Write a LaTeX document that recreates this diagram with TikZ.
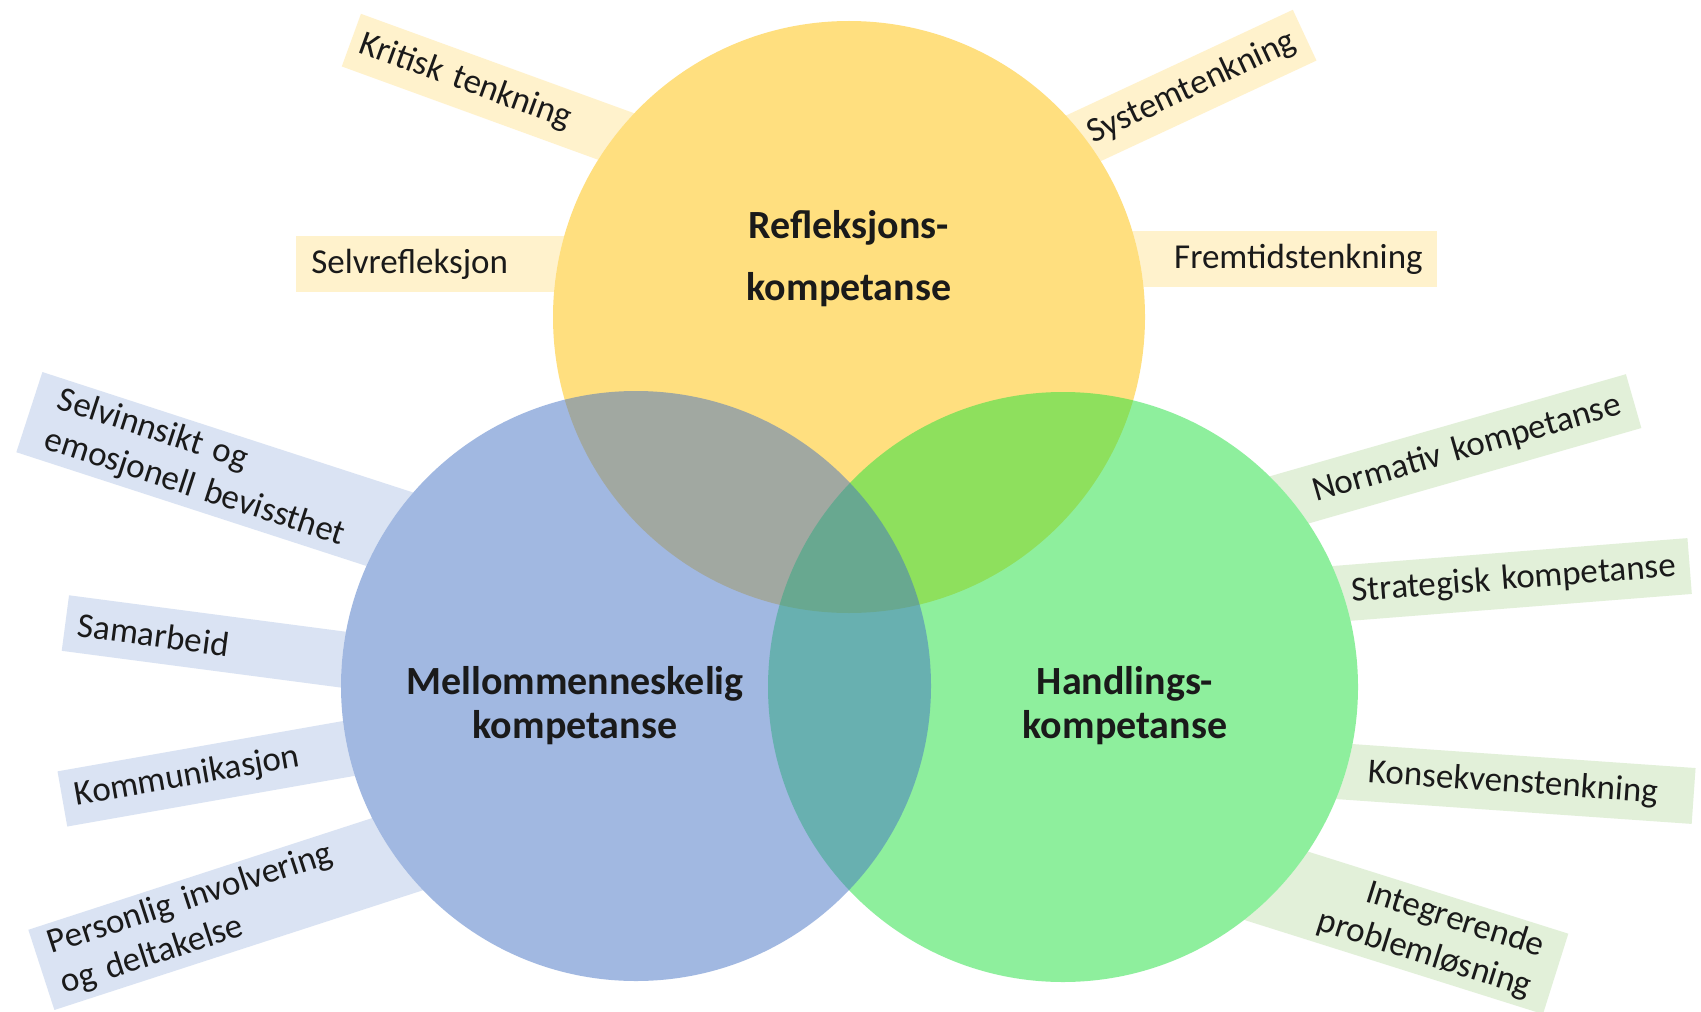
\documentclass[tikz,border=0pt]{standalone}
\usepackage{fontspec}
\setmainfont{Carlito}
\definecolor{cy}{HTML}{FFC000}
\definecolor{cb}{HTML}{4472C4}
\definecolor{cg}{HTML}{1EE13C}
\definecolor{ty}{HTML}{FFF2CC}
\definecolor{tb}{HTML}{DAE3F3}
\definecolor{tg}{HTML}{E2F0D9}
\definecolor{ink}{HTML}{1A1A1A}
\begin{document}
\begin{tikzpicture}[x=0.5pt,y=-0.5pt,
  basetag/.style={inner ysep=3pt, minimum height=28pt, text=ink,
    font=\fontsize{17.5}{21}\selectfont},
  ytag/.style={basetag, fill=ty},
  btag/.style={basetag, fill=tb},
  gtag/.style={basetag, fill=tg},
  ltag/.style={anchor=west, align=left},
  rtag/.style={anchor=east, align=right},
  bigtxt/.style={font=\bfseries\fontsize{20}{22}\selectfont, align=center, text=ink},
  disc/.style={fill opacity=0.5}]
\useasboundingbox (0,0) rectangle (1701,1011);
\fill[white] (0,0) rectangle (1701,1011);
% yellow tags
\node[ytag, ltag, rotate=-20, text width=160pt, inner xsep=5pt] (kt) at (351,40) {Kritisk tenkning};
\node[ytag, ltag, rotate=0, text width=157pt, inner xsep=7.5pt] (sr) at (296,264) {Selvrefleksjon};
\node[ytag, rtag, rotate=25, text width=148pt, inner xsep=6pt] (st) at (1305,35) {Systemtenkning};
\node[ytag, rtag, rotate=0, text width=171pt, inner xsep=7pt] (ft) at (1437,259) {Fremtidstenkning};
% blue tags
\node[btag, ltag, rotate=-18, text width=194pt, inner xsep=12pt] (se) at (29,412) {Selvinnsikt og\\emosjonell bevissthet};
\node[btag, ltag, rotate=-7.5, text width=162pt, inner xsep=6.5pt] (sa) at (65,623) {Samarbeid};
\node[btag, ltag, rotate=10, text width=167pt, inner xsep=6.5pt] (ko) at (62,799) {Kommunikasjon};
\node[btag, ltag, rotate=18, text width=200pt, inner xsep=7.5pt] (pe) at (41,970) {Personlig involvering\\og deltakelse};
% green tags
\node[gtag, rtag, rotate=16, text width=201pt, inner xsep=7pt] (no) at (1634,401) {Normativ kompetanse};
\node[gtag, rtag, rotate=4.5, text width=196pt, inner xsep=7pt] (sk) at (1690,566) {Strategisk kompetanse};
\node[gtag, rtag, rotate=-4, text width=174pt, inner xsep=18pt] (kn) at (1694,796) {Konsekvenstenkning};
\node[gtag, rtag, rotate=-17.5, text width=155pt, inner xsep=10pt] (ip) at (1556,974) {Integrerende\\problemløsning};
% circles
\coordinate (Y) at (849,317);
\coordinate (B) at (636,686);
\coordinate (G) at (1063,687);
\fill[white] (Y) circle[radius=148pt];
\fill[white] (B) circle[radius=147.5pt];
\fill[white] (G) circle[radius=147.5pt];
\fill[cy, disc] (Y) circle[radius=148pt];
\fill[cg, disc] (G) circle[radius=147.5pt];
\fill[cb, disc] (B) circle[radius=147.5pt];
% labels
\node[bigtxt, font=\bfseries\fontsize{20}{31}\selectfont] (rk) at (849,259) {Refleksjons-\\kompetanse};
\node[bigtxt] (mk) at (575,706) {Mellommenneskelig\\kompetanse};
\node[bigtxt] (hk) at (1125,706) {Handlings-\\kompetanse};
\end{tikzpicture}
\end{document}
